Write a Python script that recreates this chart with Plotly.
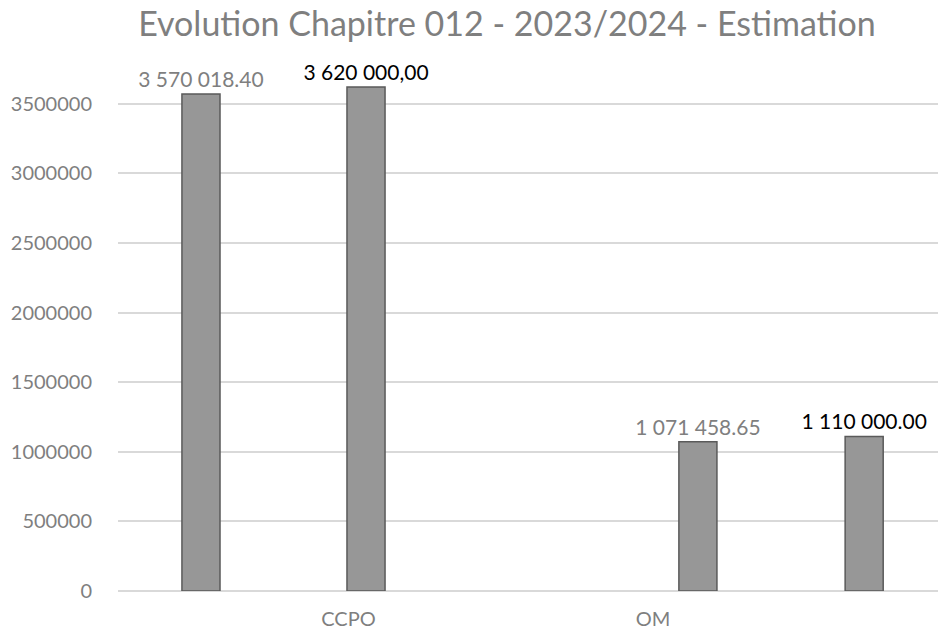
import plotly.graph_objects as go

# Chapter 012 spending, 2023 actual vs 2024 estimate
categories = ["CCPO", "OM"]
values_2023 = [3570018.40, 1071458.65]
values_2024 = [3620000.00, 1110000.00]
labels_2023 = ["3 570 018.40", "1 071 458.65"]
labels_2024 = ["3 620 000,00", "1 110 000.00"]
y_ticks = [0, 500000, 1000000, 1500000, 2000000, 2500000, 3000000, 3500000]

FONT = "Lato"
GREY_TXT = "#7f7f7f"
BAR_FILL = "#979797"
BAR_LINE = "#5a5a5a"
GRID = "#d9d9d9"

bar_width = 0.125

fig = go.Figure()
fig.add_trace(go.Bar(
    name="2023",
    x=categories,
    y=values_2023,
    width=bar_width,
    offset=[-0.547, 0.085],
    text=labels_2023,
    textposition="outside",
    constraintext="none",
    cliponaxis=False,
    textfont=dict(family=FONT, size=21, color=GREY_TXT),
    marker=dict(color=BAR_FILL, line=dict(color=BAR_LINE, width=1.5)),
))
fig.add_trace(go.Bar(
    name="2024",
    x=categories,
    y=values_2024,
    width=bar_width,
    offset=[-0.005, 0.631],
    text=labels_2024,
    textposition="outside",
    constraintext="none",
    cliponaxis=False,
    textfont=dict(family=FONT, size=21, color="#000000"),
    marker=dict(color=BAR_FILL, line=dict(color=BAR_LINE, width=1.5)),
))

fig.update_layout(
    width=938,
    height=632,
    margin=dict(l=118, r=0, t=62, b=41),
    paper_bgcolor="white",
    plot_bgcolor="white",
    barmode="overlay",
    showlegend=False,
    title=dict(
        text="Evolution Chapitre 012 - 2023/2024 - Estimation",
        font=dict(family=FONT, size=34, color=GREY_TXT),
        x=0.5405, xanchor="center",
        y=0.962, yanchor="middle", yref="container",
    ),
    font=dict(family=FONT, color=GREY_TXT),
)
fig.update_xaxes(
    type="category",
    range=[-0.757, 1.936],
    showgrid=False,
    showline=False,
    ticks="",
    ticklabelstandoff=14,
    tickfont=dict(family=FONT, size=20, color=GREY_TXT),
)
fig.update_yaxes(
    range=[0, 3800000],
    tickvals=y_ticks,
    tickformat="d",
    showgrid=True,
    gridcolor=GRID,
    gridwidth=1.5,
    zeroline=True,
    zerolinecolor=GRID,
    zerolinewidth=1.5,
    showline=False,
    ticklabelstandoff=25,
    tickfont=dict(family=FONT, size=20, color=GREY_TXT),
)

fig.write_html("out.html")
